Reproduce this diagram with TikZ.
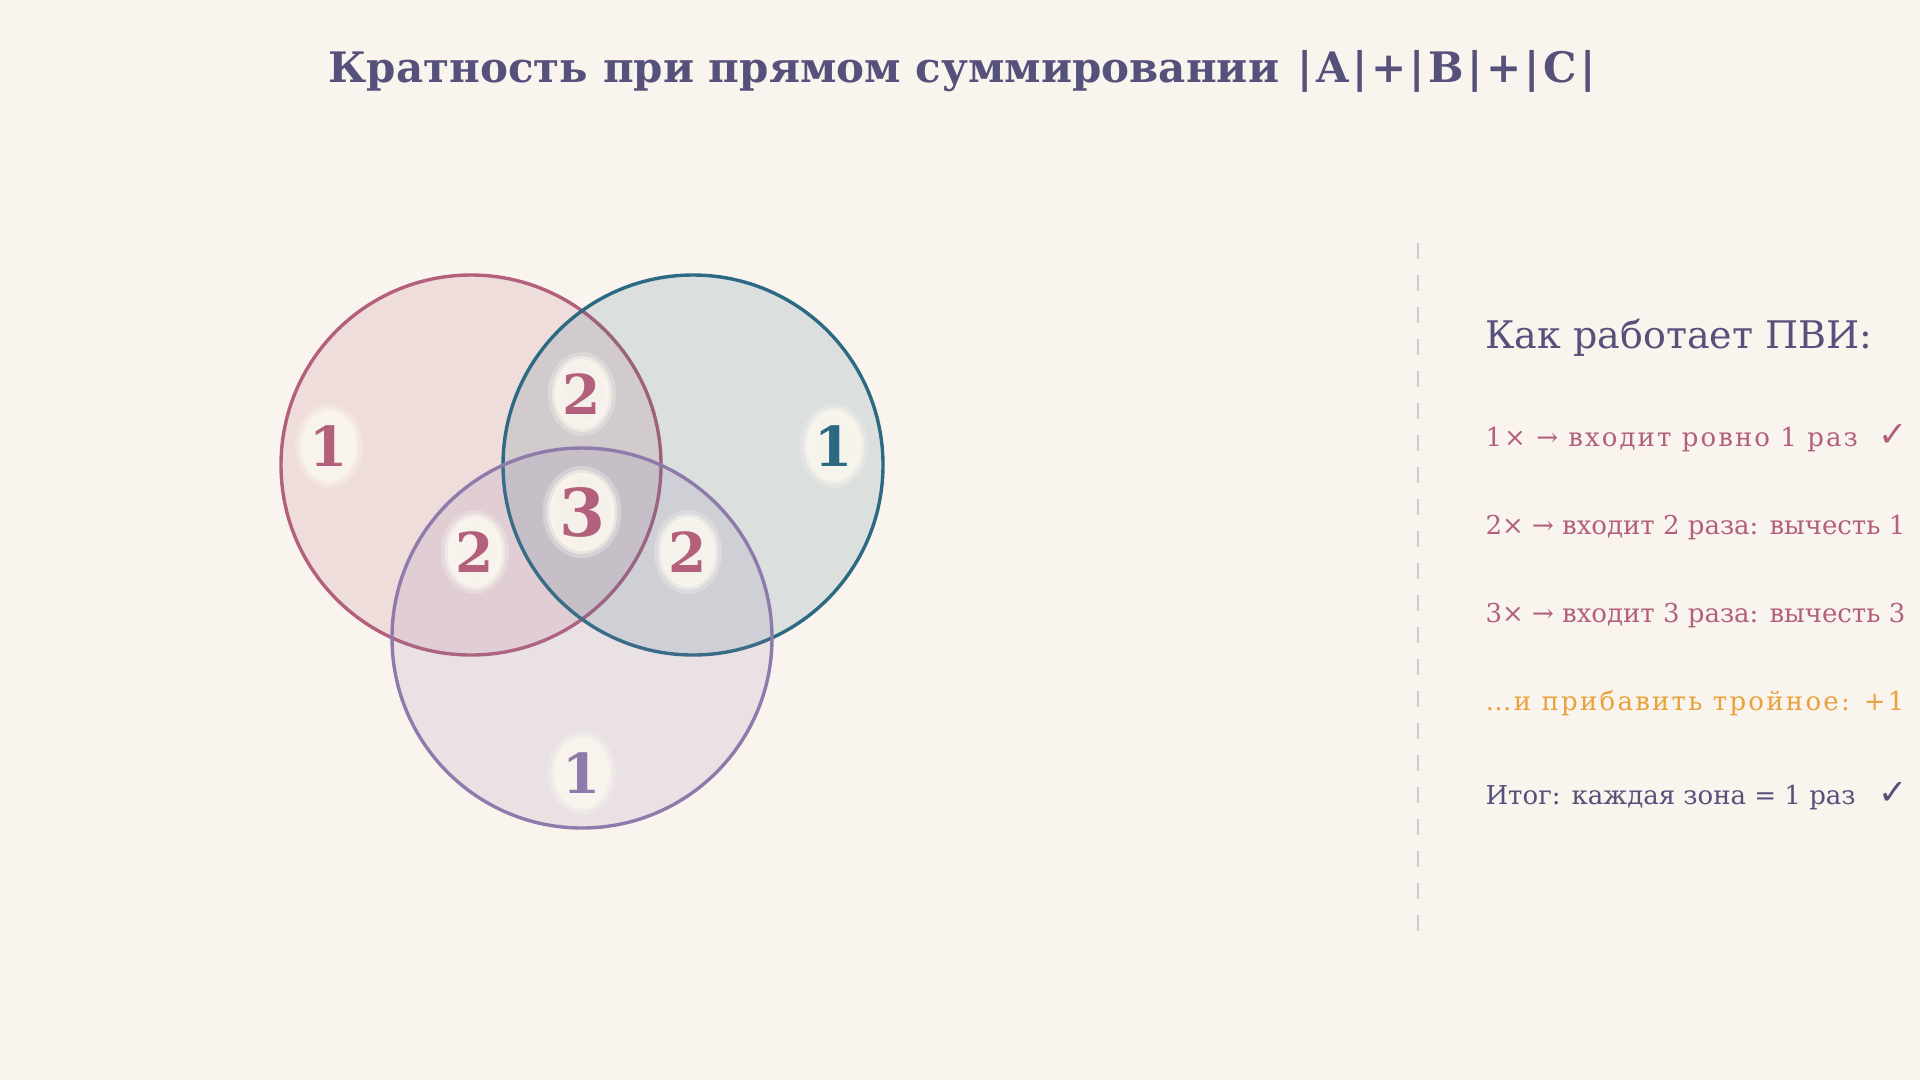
\documentclass[tikz,border=0pt]{standalone}
\usepackage{fontspec}
\setmainfont{DejaVu Serif}
\newfontfamily\symfont{DejaVu Sans}
\usepackage{xcolor}
\usepackage{tikz}
\usetikzlibrary{positioning,shapes.geometric}
\definecolor{paper}{HTML}{FAF4EE}
\definecolor{ink}{HTML}{56517B}
\definecolor{rose}{HTML}{B2607B}
\definecolor{teal}{HTML}{2C6A83}
\definecolor{lilac}{HTML}{8F7BAB}
\definecolor{amber}{HTML}{E9A23B}
\definecolor{cream}{HTML}{FAF6EE}
\definecolor{divider}{HTML}{D0CBD2}
\newcommand{\tick}{{\symfont\fontsize{35}{35}\selectfont ✓}}
\newcommand{\vbar}{\kern3.4pt|\kern3.4pt}

\begin{document}
\begin{tikzpicture}[x=1pt,y=-1pt,
      set/.style={circle,minimum size=380pt,inner sep=0pt,line width=3.4pt,fill opacity=.15},
      glow/.style={ellipse,inner sep=0pt,minimum width=54pt,minimum height=70pt,
        preaction={draw=cream,draw opacity=.3,line width=14pt},
        fill=cream,fill opacity=.9,draw=cream,draw opacity=.55,line width=6pt,
        text opacity=1,font=\fontsize{55}{60}\selectfont\bfseries},
      rule/.style={anchor=base west,text width=422pt,align=flush left,
        font=\fontsize{26}{30}\selectfont},
      divline/.style={draw=divider,line width=2pt,dash pattern=on 16pt off 16pt},
      ]
      \useasboundingbox[fill=paper] (0,0) rectangle (1920,1080);
      \node (title) at (962,82) [anchor=base,text=ink,font=\fontsize{42}{48}\selectfont\bfseries]
        {Кратность при прямом суммировании \kern4pt|\kern3.4pt A\vbar+\vbar B\vbar+\vbar C\kern3.4pt|};

      % the three sets
      \node (A) at (471,465) [set,draw=rose,fill=rose] {};
      \node (B) at (693,465) [set,draw=teal,fill=teal] {};
      \node (C) at (582,638) [set,draw=lilac,fill=lilac] {};

      % how often each zone is counted
      \node (a1) at (329,446) [glow,text=rose] {1};
      \node (b1) at (834,446) [glow,text=teal] {1};
      \node (c1) at (582,773) [glow,text=lilac] {1};
      \node (ab) at (582,394) [glow,text=rose] {2};
      \node (ac) at (475,552) [glow,text=rose] {2};
      \node (bc) at (688,552) [glow,text=rose] {2};
      \node (abc) at (582,512) [glow,text=rose,minimum width=60pt,minimum height=78pt,
        font=\fontsize{66}{70}\selectfont\bfseries] {3};

      % right panel
      \coordinate (dtop) at (1418,243);
      \coordinate (dbot) at (1418,945);
      \draw [divline] (dtop) -- (dbot);
      \node (head) at (1482,348) [rule,text=ink,font=\fontsize{38}{42}\selectfont] {Как работает ПВИ:};
      \node (l1) [below=98pt of head.base west,rule,text=rose]
        {\addfontfeature{LetterSpace=8}1× → входит ровно 1 раз\hfill\tick};
      \node (l2) [below=88pt of l1.base west,rule,text=rose] {2× → входит 2 раза: вычесть 1};
      \node (l3) [below=88pt of l2.base west,rule,text=rose] {3× → входит 3 раза: вычесть 3};
      \node (l4) [below=88pt of l3.base west,rule,text=amber]
        {\addfontfeature{LetterSpace=8.6}…и прибавить тройное: +1};
      \node (l5) [below=94pt of l4.base west,rule,text=ink]
        {Итог: каждая зона = 1 раз\hfill\tick};
  \end{tikzpicture}
\end{document}
